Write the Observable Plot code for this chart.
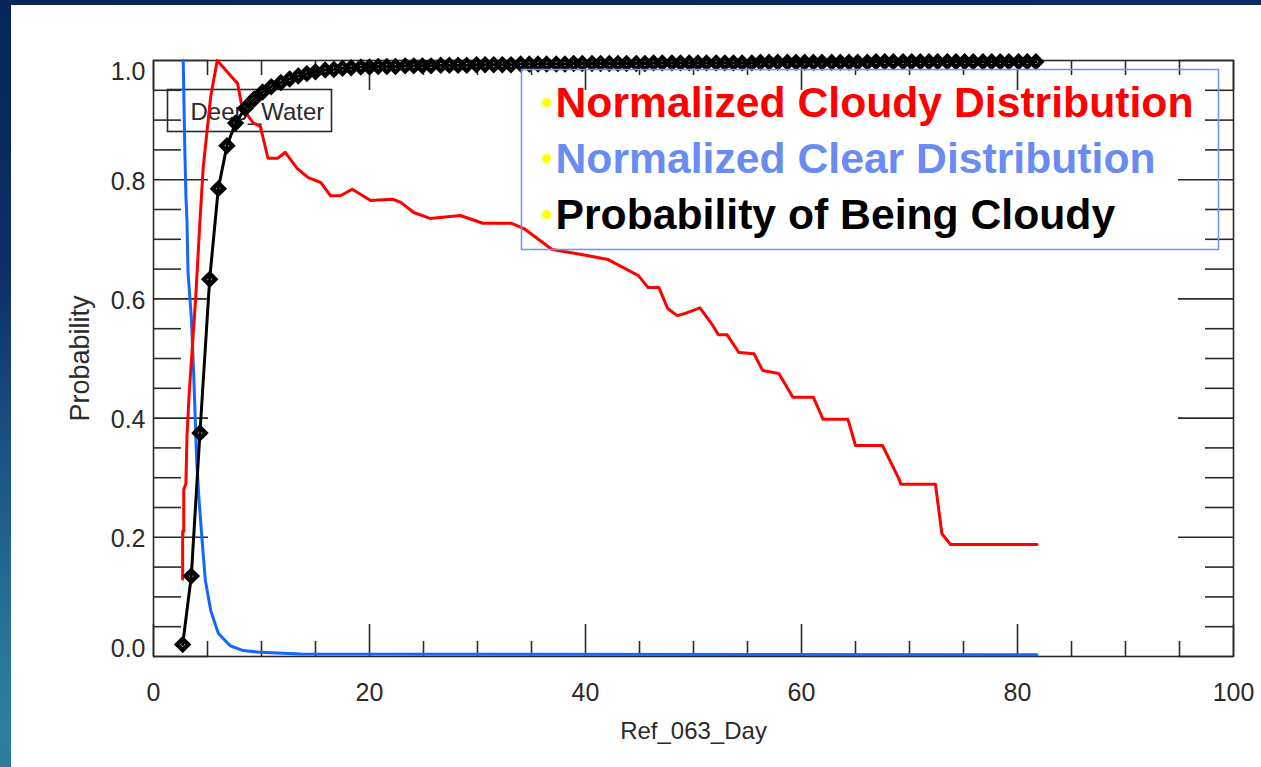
<!DOCTYPE html>
<html>
<head>
<meta charset="utf-8">
<script src="https://cdn.jsdelivr.net/npm/d3@7"></script>
<script src="https://cdn.jsdelivr.net/npm/@observablehq/plot@0.6"></script>
<style>
  html, body { margin: 0; padding: 0; }
  body {
    width: 1261px; height: 767px; overflow: hidden; position: relative;
    background:
      radial-gradient(ellipse at 0% 95%, #2d7f9c 0%, rgba(45,127,156,0) 45%),
      linear-gradient(170deg, #0a2558 0%, #0f3372 45%, #164f86 80%, #23708f 100%);
  }
  #panel { position: absolute; left: 11px; top: 5px; right: 0; bottom: 0; background: #fff; }
  #chart { position: absolute; left: 0; top: 0; }
</style>
</head>
<body>
<div id="panel"></div>
<div id="chart"></div>
<script>
// Bin centres of Ref_063_Day shared by the probability curve
const binX = [2.7, 3.5, 4.3, 5.2, 6.0, 6.8, 7.6, 8.5, 9.3, 10.1,
  10.9, 11.8, 12.6, 13.4, 14.2, 15.0, 15.9, 16.7, 17.5, 18.3,
  19.2, 20.0, 20.8, 21.6, 22.4, 23.3, 24.1, 24.9, 25.7, 26.6,
  27.4, 28.2, 29.0, 29.9, 30.7, 31.5, 32.3, 33.1, 34.0, 34.8,
  35.6, 36.4, 37.3, 38.1, 38.9, 39.7, 40.6, 41.4, 42.2, 43.0,
  43.8, 44.7, 45.5, 46.3, 47.1, 48.0, 48.8, 49.6, 50.4, 51.2,
  52.1, 52.9, 53.7, 54.5, 55.4, 56.2, 57.0, 57.8, 58.7, 59.5,
  60.3, 61.1, 61.9, 62.8, 63.6, 64.4, 65.2, 66.1, 66.9, 67.7,
  68.5, 69.4, 70.2, 71.0, 71.8, 72.6, 73.5, 74.3, 75.1, 75.9,
  76.8, 77.6, 78.4, 79.2, 80.1, 80.9, 81.7];

// Probability of being cloudy at each bin
const probCloudy = [0.020, 0.135, 0.375, 0.633, 0.785, 0.857, 0.895, 0.920, 0.935, 0.947,
  0.956, 0.963, 0.969, 0.974, 0.978, 0.981, 0.984, 0.985, 0.987, 0.988,
  0.989, 0.989, 0.990, 0.990, 0.990, 0.991, 0.991, 0.991, 0.991, 0.992,
  0.992, 0.992, 0.992, 0.993, 0.993, 0.993, 0.993, 0.993, 0.994, 0.994,
  0.994, 0.994, 0.994, 0.994, 0.995, 0.995, 0.995, 0.995, 0.995, 0.995,
  0.995, 0.995, 0.995, 0.996, 0.996, 0.996, 0.996, 0.996, 0.996, 0.996,
  0.996, 0.996, 0.996, 0.996, 0.996, 0.997, 0.997, 0.997, 0.997, 0.997,
  0.997, 0.997, 0.997, 0.997, 0.997, 0.997, 0.997, 0.997, 0.998, 0.998,
  0.998, 0.998, 0.998, 0.998, 0.998, 0.998, 0.998, 0.998, 0.998, 0.998,
  0.998, 0.998, 0.998, 0.998, 0.998, 0.998, 0.998];

// Normalized cloudy distribution (stepped outline)
const cloudyX = [2.7, 2.7, 2.8, 2.8, 3.0, 3.1, 3.3, 3.6, 3.9, 4.3, 4.6, 5.3, 5.9,
  7.8, 8.2, 9.2, 9.9, 10.6, 11.5, 12.2, 13.3, 14.3, 15.5, 16.4, 17.3, 18.4, 20.1,
  22.2, 22.9, 24.1, 25.6, 28.4, 30.5, 33.1, 34.3, 36.9, 39.5, 42.1, 44.9, 45.8,
  46.8, 47.6, 48.5, 49.1, 50.6, 51.8, 52.3, 53.1, 54.2, 55.6, 56.4, 57.9, 59.2,
  61.1, 62.0, 64.3, 65.0, 67.5, 69.0, 69.2, 72.4, 73.0, 73.8, 81.8];
const cloudyY = [0.13, 0.21, 0.21, 0.28, 0.29, 0.37, 0.44, 0.52, 0.60, 0.73, 0.82, 0.94, 1.0,
  0.961, 0.921, 0.896, 0.889, 0.836, 0.836, 0.846, 0.819, 0.804, 0.795, 0.773, 0.773, 0.784, 0.765,
  0.767, 0.762, 0.745, 0.735, 0.740, 0.727, 0.727, 0.718, 0.683, 0.675, 0.666, 0.639, 0.619,
  0.619, 0.584, 0.572, 0.575, 0.585, 0.555, 0.540, 0.540, 0.510, 0.508, 0.480, 0.475, 0.435,
  0.435, 0.398, 0.398, 0.354, 0.354, 0.299, 0.289, 0.289, 0.206, 0.188, 0.188];

// Normalized clear distribution
const clearX = [2.75, 2.9, 3.0, 3.1, 3.2, 3.5, 3.7, 4.0, 4.2, 4.5, 4.8, 5.3, 6.0, 7.1, 8.3, 9.9, 13.6, 81.8];
const clearY = [1.0, 0.85, 0.773, 0.73, 0.643, 0.569, 0.485, 0.329, 0.267, 0.195, 0.128, 0.077, 0.039, 0.018, 0.010, 0.007, 0.004, 0.003];

// Axis ticks
const xMajor = [0, 20, 40, 60, 80, 100];
const xMinor = [5, 10, 15, 25, 30, 35, 45, 50, 55, 65, 70, 75, 85, 90, 95];
const yMajor = [0, 0.2, 0.4, 0.6, 0.8, 1.0];
const yMinor = [0.05, 0.1, 0.15, 0.25, 0.3, 0.35, 0.45, 0.5, 0.55, 0.65, 0.7, 0.75, 0.85, 0.9, 0.95];

// Legend
const legendLabels = ["Normalized Cloudy Distribution", "Normalized Clear Distribution", "Probability of Being Cloudy"];
const legendColors = ["#ff0000", "#6a8cf2", "#000000"];
const surfaceLabel = "Deep_Water";
const xTitle = "Ref_063_Day";
const yTitle = "Probability";

const cloudy = cloudyX.map((x, i) => ({x, y: cloudyY[i]}));
const clear = clearX.map((x, i) => ({x, y: clearY[i]}));
const prob = binX.map((x, i) => ({x, y: probCloudy[i]}));

const W = 1261, H = 767;
const mL = 153, mR = 28, mT = 60, mB = 111;
const fw = W - mL - mR, fh = H - mT - mB;
const ink = "#2a2a2a";
const idlFont = "Liberation Sans, Arial, sans-serif";

const legendMarks = legendLabels.flatMap((label, i) => [
  Plot.dot([label], {frameAnchor: "top-left", dx: 393, dy: 42 + i * 56, r: 4.5, fill: "#ffff00", stroke: "none"}),
  Plot.text([label], {frameAnchor: "top-left", dx: 402, dy: 56 + i * 56, text: d => d, lineAnchor: "bottom",
    textAnchor: "start", fill: legendColors[i], fontSize: 42.7, fontWeight: "bold", fontFamily: "Liberation Sans, Arial, sans-serif"})
]);

const chart = Plot.plot({
  width: W, height: H,
  marginLeft: mL, marginRight: mR, marginTop: mT, marginBottom: mB,
  x: {domain: [0, 100], axis: null},
  y: {domain: [0, 1], axis: null},
  style: {background: "transparent", overflow: "visible", fontFamily: idlFont},
  marks: [
    // bottom and top ticks
    Plot.tickX(xMajor, {x: d => d, insetTop: fh - 32, stroke: ink, strokeWidth: 1.6}),
    Plot.tickX(xMinor, {x: d => d, insetTop: fh - 15, stroke: ink, strokeWidth: 1.6}),
    Plot.tickX(xMajor, {x: d => d, insetBottom: fh - 30, stroke: ink, strokeWidth: 1.6}),
    Plot.tickX(xMinor, {x: d => d, insetBottom: fh - 15, stroke: ink, strokeWidth: 1.6}),
    // left and right ticks
    Plot.tickY(yMajor, {y: d => d, insetRight: fw - 55, stroke: ink, strokeWidth: 1.6}),
    Plot.tickY(yMinor, {y: d => d, insetRight: fw - 28, stroke: ink, strokeWidth: 1.6}),
    Plot.tickY(yMajor, {y: d => d, insetLeft: fw - 55, stroke: ink, strokeWidth: 1.6}),
    Plot.tickY(yMinor, {y: d => d, insetLeft: fw - 28, stroke: ink, strokeWidth: 1.6}),
    Plot.frame({stroke: ink, strokeWidth: 1.6}),

    // tick labels
    Plot.text(xMajor, {x: d => d, frameAnchor: "bottom", dy: 36, text: d => String(d), fontSize: 25, fill: ink, lineAnchor: "middle"}),
    Plot.text(yMajor.filter(d => d > 0 && d < 1), {y: d => d, frameAnchor: "left", dx: -8, dy: 2, text: d => d.toFixed(1), textAnchor: "end", lineAnchor: "middle", fontSize: 25, fill: ink}),
    Plot.text(yMajor.filter(d => d === 0), {y: d => d, frameAnchor: "left", dx: -8, dy: -8, text: d => d.toFixed(1), textAnchor: "end", lineAnchor: "middle", fontSize: 25, fill: ink}),
    Plot.text(yMajor.filter(d => d === 1), {y: d => d, frameAnchor: "left", dx: -8, dy: 11, text: d => d.toFixed(1), textAnchor: "end", lineAnchor: "middle", fontSize: 25, fill: ink}),

    // axis titles
    Plot.text([xTitle], {frameAnchor: "bottom", dy: 75, text: d => d, textAnchor: "middle", lineAnchor: "middle", fontSize: 24, fill: ink}),
    Plot.text([yTitle], {frameAnchor: "left", dx: -73, rotate: -90, text: d => d, textAnchor: "middle", lineAnchor: "middle",
      fontSize: 27, fill: ink}),

    // surface type label in a box
    Plot.frame({insetLeft: 14, insetTop: 29, insetRight: fw - 178, insetBottom: fh - 71, stroke: ink, strokeWidth: 1.6, fill: "none"}),
    Plot.text([surfaceLabel], {frameAnchor: "top-left", dx: 37, dy: 59, text: d => d, lineAnchor: "bottom", textAnchor: "start", fontSize: 24, fill: ink}),

    // series
    Plot.line(clear, {x: "x", y: "y", stroke: "#1466ff", strokeWidth: 3}),
    Plot.line(cloudy, {x: "x", y: "y", stroke: "#ff0000", strokeWidth: 3}),
    Plot.line(prob, {x: "x", y: "y", stroke: "#000", strokeWidth: 3}),
    Plot.dot(prob, {x: "x", y: "y", symbol: "diamond2", r: 5, stroke: "#000", strokeWidth: 4.5, fill: "none"}),

    // legend box and entries
    Plot.frame({insetLeft: 368, insetTop: 9, insetRight: 15, insetBottom: fh - 189, stroke: "#7396f0", strokeWidth: 1.6, fill: "none"}),
    ...legendMarks
  ]
});

document.getElementById("chart").appendChild(chart);
</script>
</body>
</html>
